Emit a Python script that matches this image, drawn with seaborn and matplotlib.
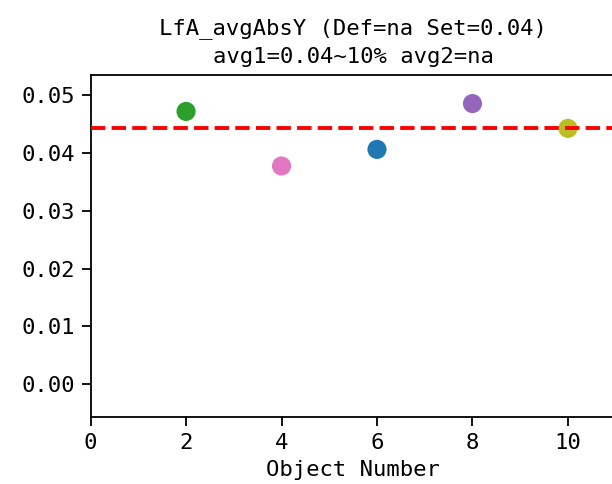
import matplotlib
matplotlib.use("Agg")
import matplotlib.pyplot as plt
import seaborn as sns
import pandas as pd

object_number = [2, 4, 6, 8, 10]
values = [0.04724, 0.03778, 0.04066, 0.0486, 0.0443]
point_colors = ["#2ca02c", "#e377c2", "#1f77b4", "#9467bd", "#bcbd22"]
avg_line = 0.0443
title = "LfA_avgAbsY (Def=na Set=0.04)\navg1=0.04~10% avg2=na"

sns.set_style("ticks")
plt.rcParams["font.family"] = ["DejaVu Sans Mono"]

df = pd.DataFrame({"x": object_number, "y": values, "c": [str(i) for i in range(len(values))]})

fig = plt.figure(figsize=(6.12, 4.84), dpi=100)
ax = fig.add_axes([0.148, 0.1376, 0.858, 0.7074])
sns.scatterplot(data=df, x="x", y="y", hue="c", palette=point_colors, s=190,
                linewidth=0, legend=False, ax=ax, zorder=3)
ax.axhline(avg_line, color="red", linestyle="--", linewidth=2.8, zorder=4)

ax.set_xlim(0, 11)
ax.set_ylim(-0.0058, 0.05355)
ax.set_xticks([0, 2, 4, 6, 8, 10])
ax.set_yticks([0.0, 0.01, 0.02, 0.03, 0.04, 0.05])
ax.set_yticklabels(["0.00", "0.01", "0.02", "0.03", "0.04", "0.05"])
ax.tick_params(labelsize=16, length=6.5, width=1.3, pad=5, color="black", labelcolor="black")
for sp in ax.spines.values():
    sp.set_linewidth(1.3)
    sp.set_color("black")
ax.set_xlabel("Object Number", fontsize=16, color="black", labelpad=5)
ax.set_ylabel("")
ax.set_title(title, fontsize=16, color="black", linespacing=1.45, pad=9)

fig.savefig("out.png", dpi=100)
